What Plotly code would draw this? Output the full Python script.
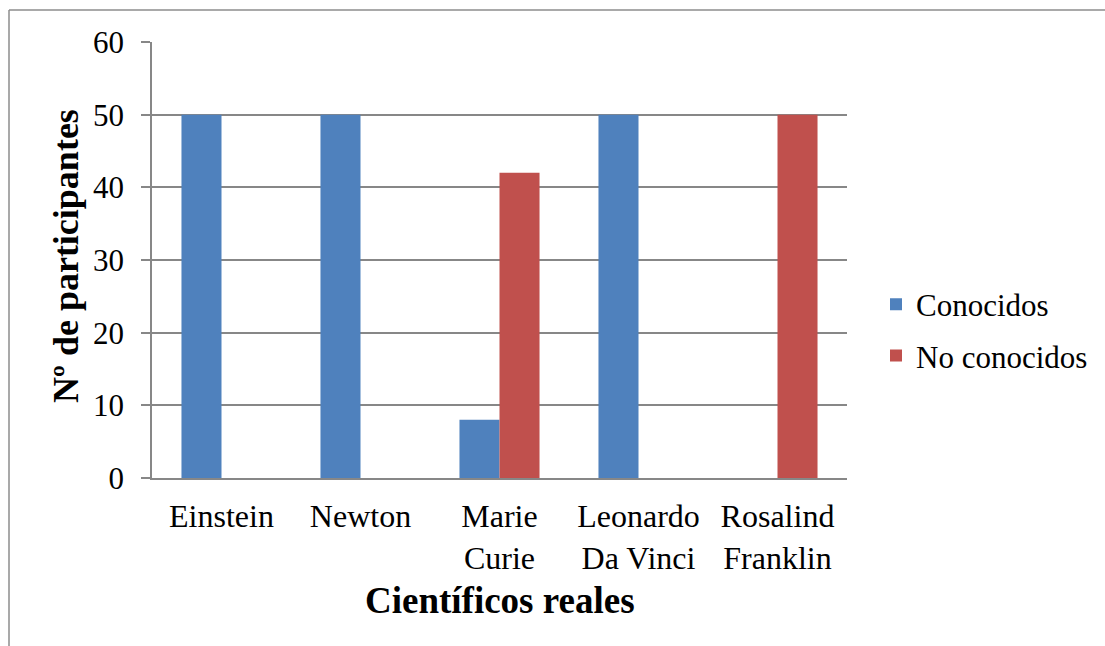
import plotly.graph_objects as go

categories = ["Einstein", "Newton", "Marie<br>Curie", "Leonardo<br>Da Vinci", "Rosalind<br>Franklin"]
conocidos = [50, 50, 8, 50, 0]
no_conocidos = [0, 0, 42, 0, 50]
y_ticks = [0, 10, 20, 30, 40, 50, 60]

FONT = "Liberation Serif"
GRAY = "#878787"

W, H = 1105, 646
L, R, T, B = 152, 258, 42, 168
pw, ph = W - L - R, H - T - B

def px_x(p):
    return (p - L) / pw

def px_y(p):
    return (H - B - p) / ph

fig = go.Figure()
fig.add_trace(go.Bar(x=categories, y=conocidos, name="Conocidos",
                     marker=dict(color="#4F81BD", line=dict(width=0)),
                     legendgroup="a"))
fig.add_trace(go.Bar(x=categories, y=no_conocidos, name="No conocidos",
                     marker=dict(color="#C0504D", line=dict(width=0)),
                     legendgroup="b"))

fig.update_layout(
    width=W, height=H,
    margin=dict(l=L, r=R, t=T, b=B),
    paper_bgcolor="white", plot_bgcolor="white",
    barmode="group", bargap=0.424, bargroupgap=0,
    font=dict(family=FONT, size=31, color="black"),
    showlegend=True,
    legend=dict(x=px_x(876), y=px_y(330), xanchor="left", yanchor="middle",
                font=dict(family=FONT, size=31, color="black"),
                tracegroupgap=8, bgcolor="rgba(0,0,0,0)"),
    xaxis=dict(showline=True, linecolor=GRAY, linewidth=1.5, ticks="",
               showgrid=False, tickfont=dict(family=FONT, size=32),
               ticklabelstandoff=9, fixedrange=True),
    yaxis=dict(range=[0, 60], tickvals=y_ticks, showline=True, linecolor=GRAY,
               linewidth=1.5, ticks="outside", ticklen=9, tickcolor=GRAY,
               tickwidth=1.5, showgrid=True, gridcolor=GRAY, gridwidth=1.5,
               zeroline=False, tickfont=dict(family=FONT, size=31),
               ticklabelstandoff=11, fixedrange=True),
    annotations=[
        dict(text="<b>Científicos reales</b>", x=0.5, y=px_y(600), xref="paper", yref="paper",
             xanchor="center", yanchor="middle", showarrow=False,
             font=dict(family=FONT, size=37, color="black")),
        dict(text="<b>Nº de participantes</b>", x=px_x(66), y=px_y(256), xref="paper", yref="paper",
             xanchor="center", yanchor="middle", showarrow=False, textangle=-90,
             font=dict(family=FONT, size=36, color="black")),
    ],
    shapes=[
        dict(type="line", xref="paper", yref="paper", x0=px_x(9), x1=px_x(1120),
             y0=px_y(10), y1=px_y(10), line=dict(color="#8c8c8c", width=1.5)),
        dict(type="line", xref="paper", yref="paper", x0=px_x(9), x1=px_x(9),
             y0=px_y(10), y1=px_y(660), line=dict(color="#8c8c8c", width=1.5)),
    ],
)

fig.write_html("out.html")
